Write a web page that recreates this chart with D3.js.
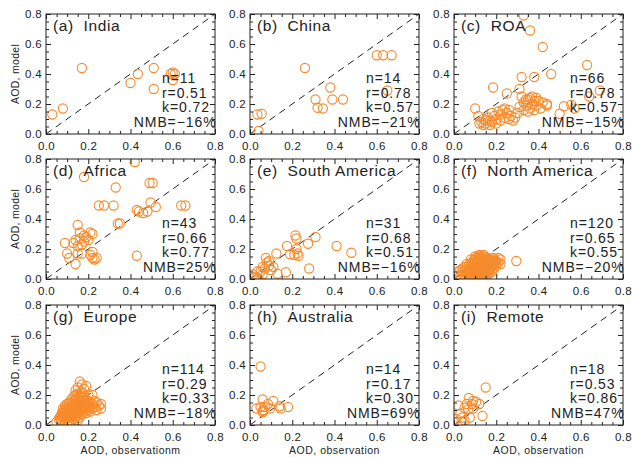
<!DOCTYPE html>
<html><head><meta charset="utf-8">
<script src="https://cdn.jsdelivr.net/npm/d3@7"></script>
<style>body{margin:0;background:#fff}svg{display:block}text{font-family:"Liberation Sans",Arial,Helvetica,sans-serif}</style>
</head><body><svg id="c" width="632" height="457"></svg>
<script>
// ---------- data ----------
const panelLetters = ["a","b","c","d","e","f","g","h","i"];
const regions = ["India","China","ROA","Africa","South America","North America","Europe","Australia","Remote"];
const statN   = ["11","14","66","43","31","120","114","14","18"];
const statR   = ["0.51","0.78","0.78","0.66","0.68","0.65","0.29","0.17","0.53"];
const statK   = ["0.72","0.57","0.57","0.77","0.51","0.55","0.33","0.30","0.86"];
const statNMB = ["\u221216%","\u221221%","\u221215%","25%","\u221216%","\u221220%","\u221218%","69%","47%"];
const tickValues = [0.0,0.2,0.4,0.6,0.8];
const minorTicks = [0.05,0.1,0.15,0.25,0.3,0.35,0.45,0.5,0.55,0.65,0.7,0.75];
const xTitles = ["AOD, observationm","AOD, observation","AOD, observation"];
const yTitle = "AOD, model";

// [observation, model]
const india = [[0.03,0.13],[0.08,0.17],[0.17,0.44],[0.40,0.34],[0.435,0.40],[0.51,0.44],[0.51,0.30],[0.59,0.40],[0.60,0.41],[0.61,0.40],[0.60,0.36]];
const china = [[0.04,0.02],[0.035,0.13],[0.055,0.135],[0.26,0.44],[0.38,0.31],[0.31,0.23],[0.32,0.175],[0.345,0.17],[0.39,0.23],[0.44,0.23],[0.60,0.525],[0.63,0.525],[0.67,0.525],[0.65,0.29]];
const roa = [[0.33,0.79],[0.36,0.69],[0.42,0.58],[0.63,0.46],[0.46,0.40],[0.38,0.38],[0.32,0.38],[0.185,0.31],[0.25,0.27],[0.31,0.30],[0.32,0.25],[0.69,0.29],[0.64,0.25],[0.555,0.195],[0.52,0.185],[0.50,0.135],[0.57,0.17],[0.44,0.19],[0.44,0.20],[0.10,0.17],[0.115,0.12],
 [0.33,0.21],[0.34,0.19],[0.35,0.23],[0.36,0.17],[0.36,0.24],[0.37,0.20],[0.37,0.25],[0.38,0.22],[0.38,0.16],[0.39,0.19],[0.40,0.22],[0.41,0.17],[0.33,0.16],[0.35,0.15],[0.34,0.23],[0.39,0.24],[0.42,0.21],[0.31,0.18],[0.30,0.14],
 [0.13,0.08],[0.14,0.06],[0.14,0.10],[0.15,0.07],[0.16,0.11],[0.17,0.09],[0.17,0.06],[0.18,0.08],[0.19,0.12],[0.20,0.10],[0.20,0.07],[0.21,0.15],[0.22,0.13],[0.23,0.16],[0.24,0.11],[0.24,0.17],[0.25,0.14],[0.26,0.16],[0.27,0.12],[0.28,0.09],[0.15,0.09],[0.12,0.07],[0.22,0.09],[0.29,0.11],[0.26,0.10],[0.18,0.14]];
const africa = [[0.09,0.24],[0.10,0.17],[0.11,0.14],[0.13,0.24],[0.14,0.26],[0.14,0.10],[0.15,0.36],[0.15,0.22],[0.15,0.17],[0.16,0.27],[0.16,0.31],[0.17,0.23],[0.17,0.17],[0.18,0.29],[0.18,0.25],[0.19,0.28],[0.20,0.26],[0.21,0.31],[0.22,0.30],[0.21,0.16],[0.22,0.18],[0.22,0.14],[0.23,0.13],[0.24,0.14],
 [0.42,0.78],[0.18,0.68],[0.33,0.61],[0.49,0.64],[0.505,0.64],[0.495,0.51],[0.52,0.48],[0.64,0.49],[0.66,0.49],[0.25,0.49],[0.275,0.49],[0.32,0.49],[0.43,0.46],[0.44,0.45],[0.46,0.44],[0.48,0.45],[0.34,0.37],[0.35,0.37],[0.43,0.155]];
const southAmerica = [[0.215,0.29],[0.22,0.27],[0.31,0.28],[0.275,0.235],[0.175,0.22],[0.22,0.20],[0.225,0.17],[0.21,0.16],[0.23,0.155],[0.19,0.165],[0.41,0.22],[0.48,0.175],[0.125,0.17],[0.075,0.14],[0.28,0.07],[0.17,0.045],[0.13,0.035],
 [0.015,0.03],[0.03,0.01],[0.04,0.005],[0.05,0.05],[0.06,0.08],[0.07,0.07],[0.08,0.11],[0.09,0.12],[0.09,0.09],[0.10,0.06],[0.06,0.03],[0.035,0.05],[0.11,0.08],[0.02,0.01]];
const northAmerica = [[0.02,0.05],[0.03,0.06],[0.04,0.03],[0.05,0.05],[0.05,0.02],[0.06,0.04],[0.06,0.07],[0.07,0.03],[0.07,0.06],[0.08,0.02],[0.08,0.05],[0.08,0.08],[0.09,0.03],[0.09,0.06],[0.09,0.10],[0.10,0.02],[0.10,0.05],[0.10,0.08],[0.10,0.12],[0.11,0.03],[0.11,0.06],[0.11,0.09],[0.11,0.13],[0.12,0.04],[0.12,0.07],[0.12,0.10],[0.12,0.14],[0.13,0.02],[0.13,0.05],[0.13,0.08],[0.13,0.11],[0.13,0.15],[0.14,0.04],[0.14,0.07],[0.14,0.10],[0.14,0.13],[0.15,0.03],[0.15,0.06],[0.15,0.09],[0.15,0.12],[0.16,0.05],[0.16,0.08],[0.16,0.11],[0.16,0.14],[0.17,0.06],[0.17,0.10],[0.17,0.13],[0.18,0.08],[0.18,0.12],[0.19,0.10],[0.19,0.13],[0.20,0.09],[0.21,0.14],[0.22,0.10],[0.295,0.12],
 [0.04,0.07],[0.05,0.08],[0.06,0.01],[0.07,0.09],[0.075,0.045],[0.085,0.035],[0.085,0.065],[0.085,0.11],[0.095,0.045],[0.095,0.075],[0.095,0.13],[0.105,0.035],[0.105,0.065],[0.105,0.10],[0.105,0.14],[0.115,0.045],[0.115,0.075],[0.115,0.11],[0.115,0.15],[0.125,0.03],[0.125,0.06],[0.125,0.09],[0.125,0.12],[0.135,0.035],[0.135,0.065],[0.135,0.095],[0.135,0.125],[0.145,0.05],[0.145,0.085],[0.145,0.115],[0.145,0.15],[0.155,0.04],[0.155,0.075],[0.155,0.105],[0.155,0.135],[0.165,0.065],[0.165,0.095],[0.165,0.125],[0.175,0.08],[0.175,0.115],[0.185,0.10],[0.185,0.14],[0.195,0.115],[0.21,0.11],[0.03,0.02],[0.04,0.05],[0.065,0.055],[0.075,0.075],[0.09,0.015],[0.11,0.015],[0.12,0.01],[0.14,0.02],[0.16,0.03],[0.17,0.04],[0.06,0.10],[0.08,0.13],[0.10,0.15],[0.12,0.16],[0.14,0.16],[0.18,0.05],[0.19,0.07],[0.20,0.12],[0.22,0.13],[0.13,0.135],[0.11,0.12]];
const europe = [[0.05,0.02],[0.06,0.04],[0.07,0.06],[0.07,0.03],[0.08,0.05],[0.08,0.08],[0.08,0.11],[0.09,0.04],[0.09,0.07],[0.09,0.10],[0.09,0.13],[0.10,0.05],[0.10,0.08],[0.10,0.11],[0.10,0.14],[0.10,0.02],[0.11,0.06],[0.11,0.09],[0.11,0.12],[0.11,0.15],[0.11,0.03],[0.12,0.05],[0.12,0.08],[0.12,0.11],[0.12,0.14],[0.12,0.17],[0.12,0.02],[0.13,0.04],[0.13,0.07],[0.13,0.10],[0.13,0.13],[0.13,0.16],[0.13,0.19],[0.14,0.05],[0.14,0.08],[0.14,0.11],[0.14,0.14],[0.14,0.17],[0.14,0.20],[0.14,0.23],[0.15,0.03],[0.15,0.06],[0.15,0.09],[0.15,0.12],[0.15,0.15],[0.15,0.18],[0.15,0.21],[0.15,0.25],[0.16,0.05],[0.16,0.08],[0.16,0.11],[0.16,0.14],[0.16,0.17],[0.16,0.20],[0.16,0.29],[0.17,0.07],[0.17,0.10],[0.17,0.13],[0.17,0.16],[0.17,0.22],[0.17,0.27],[0.18,0.09],[0.18,0.12],[0.18,0.15],[0.18,0.19],[0.18,0.24],[0.19,0.08],[0.19,0.11],[0.19,0.14],[0.19,0.17],[0.19,0.26],[0.20,0.10],[0.20,0.13],[0.20,0.16],[0.20,0.20],[0.21,0.09],[0.21,0.12],[0.21,0.15],[0.22,0.11],[0.22,0.14],[0.22,0.20],[0.23,0.12],[0.23,0.16],[0.24,0.10],[0.24,0.15],[0.25,0.13],[0.26,0.14],[0.26,0.11],
 [0.065,0.05],[0.075,0.08],[0.085,0.06],[0.085,0.09],[0.095,0.06],[0.095,0.12],[0.105,0.07],[0.105,0.10],[0.115,0.07],[0.115,0.11],[0.125,0.06],[0.125,0.12],[0.135,0.09],[0.135,0.15],[0.145,0.07],[0.145,0.13],[0.155,0.10],[0.155,0.16],[0.165,0.12],[0.165,0.19],[0.175,0.11],[0.175,0.18],[0.185,0.13],[0.195,0.12],[0.205,0.14],[0.11,0.01]];
const australia = [[0.05,0.39],[0.06,0.17],[0.11,0.16],[0.085,0.14],[0.07,0.12],[0.03,0.11],[0.06,0.095],[0.06,0.085],[0.065,0.10],[0.095,0.11],[0.14,0.125],[0.145,0.11],[0.18,0.12],[0.05,0.12]];
const remote = [[0.15,0.25],[0.07,0.18],[0.09,0.16],[0.105,0.155],[0.12,0.14],[0.085,0.14],[0.06,0.14],[0.05,0.115],[0.02,0.13],[0.135,0.06],[0.067,0.105],[0.09,0.11],[0.03,0.075],[0.04,0.05],[0.01,0.04],[0.075,0.05],[0.035,0.02],[0.05,0.03]];
const seriesList = [india, china, roa, africa, southAmerica, northAmerica, europe, australia, remote];

// ---------- layout ----------
const colLeft = [46, 250, 454];
const rowTop = [14, 159, 305];
const W = 169, H = 120;
const markColor = "#f68b2c";
const ink = "#222";

const svg = d3.select("#c");
const x = d3.scaleLinear().domain([0,0.8]).range([0,W]);
const y = d3.scaleLinear().domain([0,0.8]).range([H,0]);
const fmt = d3.format(".1f");

seriesList.forEach((data, i) => {
  const col = i % 3, row = Math.floor(i / 3);
  const g = svg.append("g").attr("transform", `translate(${colLeft[col]},${rowTop[row]})`);

  const clipId = "clip" + i;
  g.append("clipPath").attr("id", clipId).append("rect").attr("width", W).attr("height", H);

  // 1:1 dashed line
  g.append("line")
    .attr("x1", x(0)).attr("y1", y(0)).attr("x2", x(0.8)).attr("y2", y(0.8))
    .attr("stroke", ink).attr("stroke-width", 1).attr("stroke-dasharray", "7,5");

  // points
  g.append("g").attr("clip-path", `url(#${clipId})`)
    .selectAll("circle").data(data).join("circle")
    .attr("cx", d => x(d[0])).attr("cy", d => y(d[1])).attr("r", 4.6)
    .attr("fill", "none").attr("stroke", markColor).attr("stroke-width", 1.1);

  // axes (major ticks inward with labels)
  g.append("g").attr("transform", `translate(0,${H})`)
    .call(d3.axisBottom(x).tickValues(tickValues).tickFormat(fmt).tickSizeInner(-5).tickSizeOuter(0).tickPadding(8));
  g.append("g")
    .call(d3.axisLeft(y).tickValues(tickValues).tickFormat(fmt).tickSizeInner(-5).tickSizeOuter(0).tickPadding(4));
  g.append("g")
    .call(d3.axisTop(x).tickValues(tickValues).tickFormat("").tickSizeInner(-5).tickSizeOuter(0));
  g.append("g").attr("transform", `translate(${W},0)`)
    .call(d3.axisRight(y).tickValues(tickValues).tickFormat("").tickSizeInner(-5).tickSizeOuter(0));
  // minor ticks
  g.append("g").attr("transform", `translate(0,${H})`).call(d3.axisBottom(x).tickValues(minorTicks).tickFormat("").tickSizeInner(-3).tickSizeOuter(0));
  g.append("g").call(d3.axisTop(x).tickValues(minorTicks).tickFormat("").tickSizeInner(-3).tickSizeOuter(0));
  g.append("g").call(d3.axisLeft(y).tickValues(minorTicks).tickFormat("").tickSizeInner(-3).tickSizeOuter(0));
  g.append("g").attr("transform", `translate(${W},0)`).call(d3.axisRight(y).tickValues(minorTicks).tickFormat("").tickSizeInner(-3).tickSizeOuter(0));

  g.selectAll(".domain").remove();
  g.selectAll(".tick line").attr("stroke", ink);
  g.selectAll(".tick text").attr("fill", ink).style("font-size", "11.5px")
    .style("letter-spacing", "0.3px").style("font-family", '"Liberation Sans",Arial,sans-serif');

  // frame
  g.append("rect").attr("width", W).attr("height", H).attr("fill", "none").attr("stroke", ink).attr("stroke-width", 1);

  // title
  g.append("text").attr("x", 7).attr("y", 17).attr("fill", ink).style("font-size", "15.5px")
    .style("letter-spacing", "0.6px")
    .text(`(${panelLetters[i]})\u00a0\u00a0${regions[i]}`);

  // stats
  const st = g.append("g").attr("fill", ink).style("font-size", "14px").style("letter-spacing", "0.9px");
  st.append("text").attr("x", 116).attr("y", 69).text(`n=${statN[i]}`);
  st.append("text").attr("x", 116).attr("y", 83.5).text(`r=${statR[i]}`);
  st.append("text").attr("x", 116).attr("y", 98).text(`k=${statK[i]}`);
  st.append("text").attr("x", W + 1.5).attr("y", 112.5).attr("text-anchor", "end").text(`NMB=${statNMB[i]}`);

  if (col === 0) {
    g.append("text").attr("transform", `translate(-27,${H/2}) rotate(-90)`)
      .attr("text-anchor", "middle").attr("fill", ink).style("font-size", "10.5px")
      .style("letter-spacing", "0.3px").text(yTitle);
  }
  if (row === 2) {
    g.append("text").attr("x", W/2).attr("y", H + 29).attr("text-anchor", "middle")
      .attr("fill", ink).style("font-size", "10.5px").style("letter-spacing", "0.5px").text(xTitles[col]);
  }
});
</script></body></html>
